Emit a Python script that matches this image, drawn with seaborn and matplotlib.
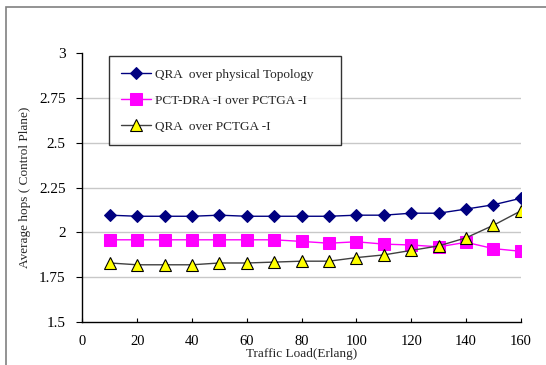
import numpy as np
import pandas as pd
import matplotlib
matplotlib.use("Agg")
import matplotlib.pyplot as plt
import seaborn as sns
from matplotlib.patches import Rectangle

# Data
traffic_load = [10, 20, 30, 40, 50, 60, 70, 80, 90, 100, 110, 120, 130, 140, 150, 160]
qra_physical = [2.096, 2.09, 2.09, 2.09, 2.096, 2.09, 2.09, 2.09, 2.09, 2.096, 2.096,
                2.107, 2.107, 2.13, 2.154, 2.19]
pct_dra = [1.959, 1.959, 1.959, 1.959, 1.959, 1.959, 1.959, 1.95, 1.94, 1.948, 1.935,
           1.93, 1.92, 1.945, 1.91, 1.895]
qra_pctga = [1.83, 1.82, 1.82, 1.82, 1.83, 1.83, 1.835, 1.84, 1.84, 1.86, 1.875,
             1.9, 1.925, 1.97, 2.04, 2.12]

labels = ["QRA  over physical Topology", "PCT-DRA -I over PCTGA -I", "QRA  over PCTGA -I"]
y_ticks = [1.5, 1.75, 2, 2.25, 2.5, 2.75, 3]
x_ticks = [0, 20, 40, 60, 80, 100, 120, 140, 160]

sns.set_style("white")
plt.rcParams['font.family'] = ['Liberation Serif', 'DejaVu Serif']

fig = plt.figure(figsize=(5.46, 3.65), dpi=100)
ax = fig.add_axes([0.151, 0.117, 0.803, 0.7386])

# gray frame around the chart area
fig.patches.append(Rectangle((6 / 546, -0.1), 1.2, 1 - 7 / 365 + 0.1, transform=fig.transFigure,
                             fill=False, edgecolor="#808080", linewidth=1.2))

sns.lineplot(x=traffic_load, y=qra_physical, ax=ax, color="#000080", marker="D",
             markersize=6.5, markeredgecolor="#000080", linewidth=1, label=labels[0])
sns.lineplot(x=traffic_load, y=pct_dra, ax=ax, color="#FF00FF", marker="s",
             markersize=8, markeredgecolor="#FF00FF", linewidth=1, label=labels[1])
sns.lineplot(x=traffic_load, y=qra_pctga, ax=ax, color="#404040", marker="^",
             markersize=9, markerfacecolor="#FFFF00", markeredgecolor="#000000",
             markeredgewidth=0.8, linewidth=1, label=labels[2])

ax.set_xlim(0, 160)
ax.set_ylim(1.5, 3)
ax.set_xticks(x_ticks)
ax.set_yticks(y_ticks)
ax.set_yticklabels([f"{v:g}" for v in y_ticks])
for v in y_ticks[1:-1]:
    ax.axhline(v, color="#c8c8c8", linewidth=1, zorder=0)

ax.tick_params(axis="x", direction="in", length=3, labelsize=10.5, pad=9, colors="black")
ax.tick_params(axis="y", direction="out", length=4, labelsize=11, pad=8, colors="black")
ax.tick_params(left=True, bottom=True)
for s in ["top", "right"]:
    ax.spines[s].set_visible(False)
for s in ["left", "bottom"]:
    ax.spines[s].set_color("black")
    ax.spines[s].set_linewidth(1)

ax.set_xlabel("Traffic Load(Erlang)", fontsize=9.5, labelpad=0)
ax.set_ylabel("Average hops ( Control Plane)", fontsize=9.5, labelpad=6)

leg = ax.legend(loc="upper left", bbox_to_anchor=(0.060, 0.0, 0.53, 0.986), mode="expand",
                borderaxespad=0, fontsize=9.5, frameon=True, fancybox=False, edgecolor="black",
                handlelength=2.3, labelspacing=1.05, borderpad=0.9, handletextpad=0.3)
leg.get_frame().set_linewidth(1)

fig.savefig("out.png", dpi=100)
